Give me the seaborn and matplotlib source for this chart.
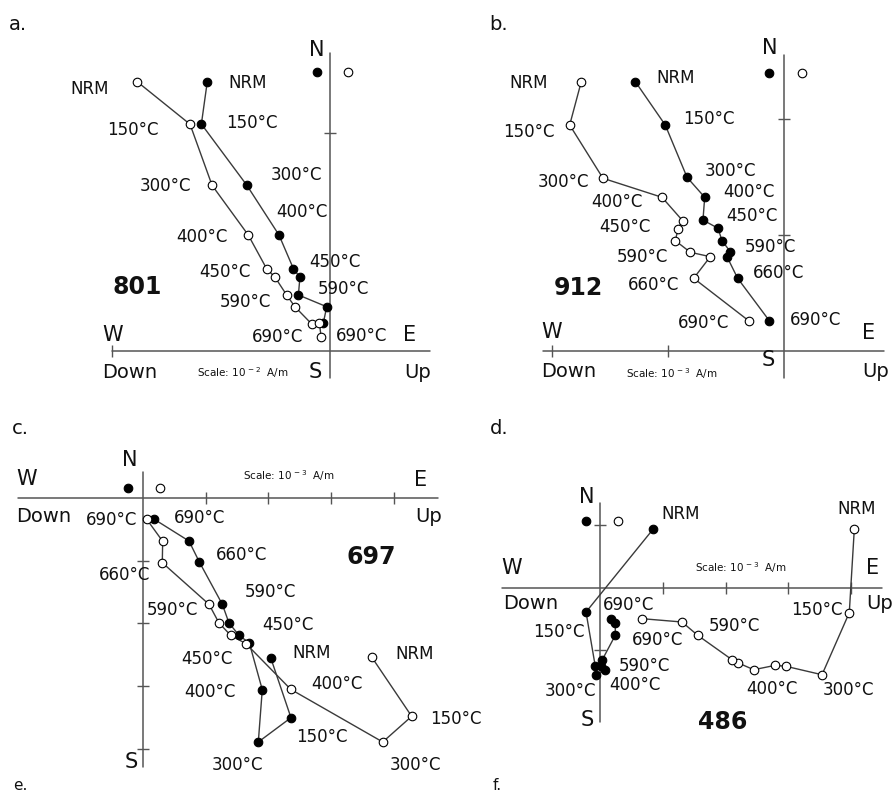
import matplotlib
matplotlib.use("Agg")
import matplotlib.pyplot as plt
import seaborn as sns

# ---- data (units of the panel scale; origin at the axis crossing) ----
# x = E (filled) / Up (open), y = N
a_filled_x = [-0.563, -0.590, -0.382, -0.234, -0.168, -0.138, -0.145, -0.015, -0.031]
a_filled_y = [1.235, 1.041, 0.761, 0.532, 0.378, 0.338, 0.257, 0.203, 0.127]
a_open_x = [-0.884, -0.642, -0.541, -0.375, -0.291, -0.252, -0.199, -0.161, -0.084, -0.049, -0.041]
a_open_y = [1.235, 1.040, 0.760, 0.532, 0.378, 0.338, 0.257, 0.203, 0.124, 0.130, 0.066]

b_filled_x = [-1.279, -1.021, -0.833, -0.681, -0.696, -0.566, -0.532, -0.460, -0.489, -0.397, -0.124]
b_filled_y = [2.322, 1.948, 1.497, 1.325, 1.129, 1.058, 0.951, 0.856, 0.813, 0.627, 0.261]
b_open_x = [-1.745, -1.845, -1.558, -1.049, -0.871, -0.911, -0.934, -0.805, -0.633, -0.776, -0.302]
b_open_y = [2.322, 1.948, 1.489, 1.325, 1.123, 1.054, 0.951, 0.851, 0.813, 0.627, 0.261]

c_filled_x = [2.038, 2.361, 1.841, 1.904, 1.698, 1.533, 1.374, 1.268, 0.902, 0.737, 0.185]
c_filled_y = [-2.548, -3.503, -3.890, -3.057, -2.314, -2.191, -1.995, -1.698, -1.024, -0.690, -0.344]
c_open_x = [3.646, 4.283, 3.822, 2.357, 1.645, 1.401, 1.215, 1.056, 0.312, 0.318, 0.064]
c_open_y = [-2.537, -3.481, -3.890, -3.051, -2.325, -2.191, -1.995, -1.698, -1.035, -0.694, -0.344]

d_filled_x = [0.840, -0.228, -0.080, -0.064, 0.080, 0.011, 0.027, 0.239, 0.239, 0.171]
d_filled_y = [0.931, -0.388, -1.254, -1.388, -1.308, -1.254, -1.158, -0.759, -0.563, -0.494]
d_open_x = [4.051, 3.971, 3.536, 2.962, 2.791, 2.447, 2.191, 2.100, 1.553, 1.303, 0.665]
d_open_y = [0.931, -0.399, -1.388, -1.254, -1.238, -1.308, -1.196, -1.148, -0.759, -0.547, -0.494]

# key symbols next to N
key_x = {"a": (-0.061, 0.084), "b": (-0.124, 0.158), "c": (-0.229, 0.275), "d": (-0.223, 0.282)}
key_y = {"a": 1.278, "b": 2.399, "c": 0.154, "d": 1.064}

sample_ids = {"a": "801", "b": "912", "c": "697", "d": "486"}
scale_exp = {"a": -2, "b": -3, "c": -3, "d": -3}

# ---- layout (pixels in a 894x794 image) ----
W, H = 894, 794
panels = {
    # rect, origin, px per unit, h-axis extent, v-axis extent, x ticks, y ticks
    "a": ((0, 0, 447, 397), (330, 351), 218, (-1.0, 0.459), (-0.124, 1.367), [-1], [1]),
    "b": ((447, 0, 894, 397), (783.7, 351), 116, (-2.078, 0.862), (-0.233, 2.552), [-2, -1], [1, 2]),
    "c": ((0, 397, 447, 794), (142.7, 497.7), 62.8, (-1.981, 4.707), (-4.288, 0.409), [1, 2, 3, 4], [-1, -2, -3, -4]),
    "d": ((447, 397, 894, 794), (600.3, 587.7), 62.7, (-1.568, 4.493), (-2.142, 1.351), [1, 2, 3, 4], [1, -1]),
}
series = {
    "a": (a_filled_x, a_filled_y, a_open_x, a_open_y),
    "b": (b_filled_x, b_filled_y, b_open_x, b_open_y),
    "c": (c_filled_x, c_filled_y, c_open_x, c_open_y),
    "d": (d_filled_x, d_filled_y, d_open_x, d_open_y),
}

# text: (string, x px, y px, style)
texts = [
    ("a.", 18, 25, "panel"), ("N", 316.7, 50, "dir"), ("NRM", 90, 89, "t"), ("NRM", 248, 83, "t"),
    ("150°C", 133, 130, "t"), ("150°C", 252, 123, "t"), ("300°C", 165, 186, "t"), ("300°C", 296, 175, "t"),
    ("400°C", 302, 212, "t"), ("400°C", 202, 237, "t"), ("450°C", 335, 262, "t"), ("450°C", 225, 272, "t"),
    ("590°C", 343, 289, "t"), ("590°C", 245, 302, "t"), ("690°C", 278, 337, "t"), ("690°C", 362, 336, "t"),
    ("E", 410, 335, "dir"), ("W", 113, 335, "dir"), ("Down", 130, 372, "ud"), ("S", 315, 372, "dir"),
    ("Up", 418, 372, "ud"), ("801", 137, 287, "id"), ("a", 243, 373, "scale"),

    ("b.", 498.7, 25, "panel"), ("N", 769.7, 48.3, "dir"), ("NRM", 528.7, 83.3, "t"), ("NRM", 675.3, 78.3, "t"),
    ("150°C", 708.7, 119.3, "t"), ("150°C", 528.7, 131.7, "t"), ("300°C", 730.3, 170.7, "t"), ("300°C", 563.7, 181.7, "t"),
    ("400°C", 748.7, 191.7, "t"), ("400°C", 617, 201.7, "t"), ("450°C", 752, 216, "t"), ("450°C", 625.3, 226.7, "t"),
    ("590°C", 770.3, 247.3, "t"), ("590°C", 642, 256.7, "t"), ("660°C", 778.7, 272.7, "t"), ("660°C", 653.7, 285, "t"),
    ("690°C", 815.3, 320, "t"), ("690°C", 703.7, 322.7, "t"), ("912", 578.7, 288.3, "id"),
    ("W", 552, 331.7, "dir"), ("E", 868.7, 332.7, "dir"), ("Down", 568.7, 371.7, "ud"), ("b", 672, 373.3, "scale"),
    ("S", 768.7, 360, "dir"), ("Up", 875.3, 371.7, "ud"),

    ("c.", 20, 428.7, "panel"), ("N", 129.3, 460.3, "dir"), ("W", 26.7, 478.7, "dir"), ("c", 288.3, 475.3, "scale"),
    ("E", 420.7, 479.7, "dir"), ("Down", 43.3, 517, "ud"), ("690°C", 111.7, 520.3, "t"), ("690°C", 200, 517.7, "t"),
    ("Up", 428.3, 517, "ud"), ("660°C", 241.7, 555.3, "t"), ("697", 371.7, 557, "id"), ("660°C", 125, 575.3, "t"),
    ("590°C", 270, 592, "t"), ("590°C", 172.7, 610.3, "t"), ("450°C", 288.3, 625.3, "t"), ("NRM", 311.7, 653, "t"),
    ("NRM", 415, 653.7, "t"), ("450°C", 206.7, 658.7, "t"), ("400°C", 337.3, 683.7, "t"), ("400°C", 210, 692, "t"),
    ("150°C", 456, 719, "t"), ("150°C", 321.7, 737, "t"), ("300°C", 237.3, 765.3, "t"), ("300°C", 415, 765.3, "t"),
    ("S", 131.7, 762, "dir"),

    ("d.", 498.7, 428.7, "panel"), ("N", 586.3, 497, "dir"), ("NRM", 680.3, 514.3, "t"), ("NRM", 856.3, 508.7, "t"),
    ("W", 512, 567.7, "dir"), ("d", 740.3, 567.7, "scale"), ("E", 873, 567.7, "dir"), ("Down", 531, 603.7, "ud"),
    ("690°C", 628.7, 605.3, "t"), ("150°C", 817, 610.3, "t"), ("Up", 880, 603.7, "ud"), ("150°C", 558.7, 632, "t"),
    ("590°C", 734.3, 626.3, "t"), ("690°C", 657.7, 640.3, "t"), ("590°C", 644.3, 666.3, "t"), ("400°C", 635.3, 685.3, "t"),
    ("300°C", 570.3, 691, "t"), ("400°C", 772, 688.7, "t"), ("300°C", 848.7, 690.3, "t"), ("S", 587, 720.3, "dir"),
    ("486", 723, 722, "id"),

    ("e.", 20, 785, "next"), ("f.", 497, 785, "next"),
]
styles = {
    "t": dict(fontsize=12),
    "dir": dict(fontsize=15),
    "ud": dict(fontsize=14),
    "panel": dict(fontsize=14),
    "next": dict(fontsize=11),
    "id": dict(fontsize=17, fontweight="bold"),
    "scale": dict(fontsize=7.5),
}

sns.set_style("white")
plt.rcParams["font.family"] = ["DejaVu Sans"]

fig = plt.figure(figsize=(W / 100, H / 100), dpi=100)
fig.patch.set_facecolor("white")

line_col = "#3a3a3a"
axis_col = "#555555"

for key, (rect, origin, unit, hx, vy, xt, yt) in panels.items():
    x0, y0, x1, y1 = rect
    ax = fig.add_axes([x0 / W, 1 - y1 / H, (x1 - x0) / W, (y1 - y0) / H])
    ax.set_xlim((x0 - origin[0]) / unit, (x1 - origin[0]) / unit)
    ax.set_ylim((origin[1] - y1) / unit, (origin[1] - y0) / unit)
    ax.axis("off")

    # cross-shaped axes with ticks
    ax.plot(hx, [0, 0], color=axis_col, lw=1.1, zorder=1)
    ax.plot([0, 0], vy, color=axis_col, lw=1.1, zorder=1)
    ax.plot(xt, [0] * len(xt), ls="none", marker="|", ms=8, mew=1.0, color=axis_col)
    ax.plot([0] * len(yt), yt, ls="none", marker="_", ms=8, mew=1.0, color=axis_col)

    fx, fy, ox, oy = series[key]
    sns.lineplot(x=fx, y=fy, sort=False, estimator=None, color=line_col, lw=1.0, ax=ax, zorder=2)
    sns.lineplot(x=ox, y=oy, sort=False, estimator=None, color=line_col, lw=1.0, ax=ax, zorder=2)
    sns.scatterplot(x=fx, y=fy, color="black", edgecolor="black", linewidth=0.8, s=38, ax=ax, zorder=3)
    sns.scatterplot(x=ox, y=oy, color="white", edgecolor="black", linewidth=0.8, s=38, ax=ax, zorder=3)

    # key symbols
    sns.scatterplot(x=[key_x[key][0]], y=[key_y[key]], color="black", edgecolor="black", linewidth=0.8, s=38, ax=ax, zorder=3)
    sns.scatterplot(x=[key_x[key][1]], y=[key_y[key]], color="white", edgecolor="black", linewidth=0.8, s=38, ax=ax, zorder=3)

for s, px, py, st in texts:
    if st == "scale":
        s = "Scale: 10$^{\\,%d}$  A/m" % scale_exp[s]
    fig.text(px / W, 1 - py / H, s, ha="center", va="center", color="#111111", **styles[st])

plt.savefig("out.png", dpi=100, facecolor="white")
